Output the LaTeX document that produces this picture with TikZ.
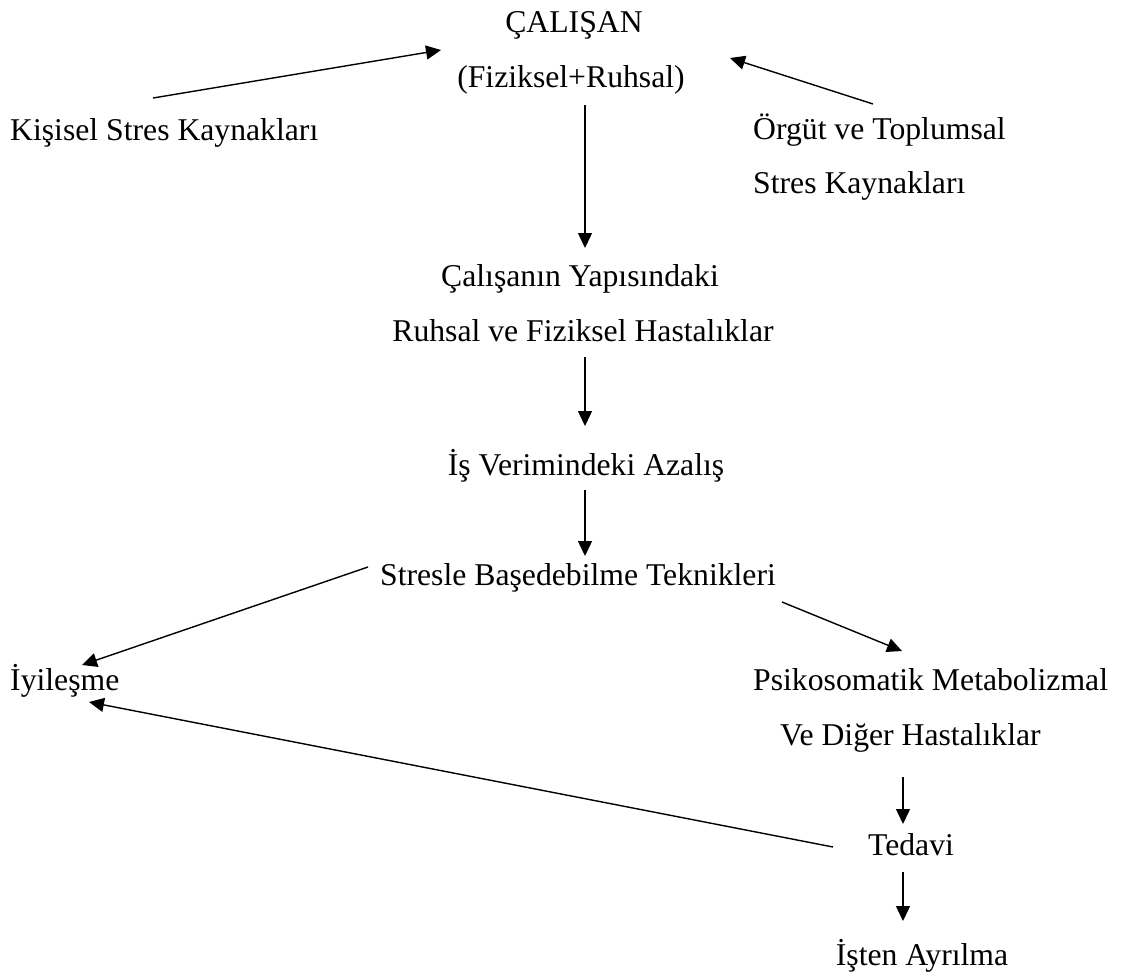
\documentclass[tikz,border=0pt]{standalone}
\usepackage{fontspec}
\setmainfont{Liberation Serif}
\usetikzlibrary{arrows.meta}
\begin{document}
\begin{tikzpicture}[x=1pt,y=-1pt,
  lbl/.style={anchor=base,inner sep=0pt,font=\fontsize{31.7}{38}\selectfont},
  lblw/.style={anchor=base west,inner sep=0pt,font=\fontsize{31.7}{38}\selectfont},
  conn/.style={line width=1.4pt,-{Triangle[length=15pt,width=14pt]}}]
\useasboundingbox (0,0) rectangle (1125,978);
% texts
\node[lbl] (calisan) at (574,32) {ÇALIŞAN};
\node[lbl] (fizruh) at (571,87) {(Fiziksel+Ruhsal)};
\node[lblw] (kisisel) at (10,140) {Kişisel Stres Kaynakları};
\node[lblw] (orgut1) at (753,139) {Örgüt ve Toplumsal};
\node[lblw] (orgut2) at (753,193) {Stres Kaynakları};
\node[lbl] (yapi1) at (580,286) {Çalışanın Yapısındaki};
\node[lbl] (yapi2) at (583,341) {Ruhsal ve Fiziksel Hastalıklar};
\node[lbl] (verim) at (586,475) {İş Verimindeki Azalış};
\node[lbl] (teknik) at (578,585) {Stresle Başedebilme Teknikleri};
\node[lblw] (iyiles) at (10,690) {İyileşme};
\node[lblw] (psiko1) at (753,690) {Psikosomatik Metabolizmal};
\node[lblw] (psiko2) at (780,745) {Ve Diğer Hastalıklar};
\node[lbl] (tedavi) at (911,855) {Tedavi};
\node[lbl] (ayril) at (922,965) {İşten Ayrılma};
% connector end points
\coordinate (kOut) at (153,98);
\coordinate (cInL) at (441,50);
\coordinate (oOut) at (873,104);
\coordinate (cInR) at (730,58);
\coordinate (fOut) at (585,105);
\coordinate (yIn) at (585,248);
\coordinate (yOut) at (585,357);
\coordinate (vIn) at (585,426);
\coordinate (vOut) at (585,490);
\coordinate (tIn) at (585,556);
\coordinate (tOutL) at (368,567);
\coordinate (iInT) at (82,665);
\coordinate (tOutR) at (782,602);
\coordinate (pIn) at (902,651);
\coordinate (pOut) at (903,777);
\coordinate (tedIn) at (903,824);
\coordinate (tedOutL) at (833,847);
\coordinate (iInB) at (89,702);
\coordinate (tedOut) at (903,872);
\coordinate (aIn) at (903,921);
% connectors
\draw[conn] (kOut) -- (cInL);
\draw[conn] (oOut) -- (cInR);
\draw[conn] (fOut) -- (yIn);
\draw[conn] (yOut) -- (vIn);
\draw[conn] (vOut) -- (tIn);
\draw[conn] (tOutL) -- (iInT);
\draw[conn] (tOutR) -- (pIn);
\draw[conn] (pOut) -- (tedIn);
\draw[conn] (tedOutL) -- (iInB);
\draw[conn] (tedOut) -- (aIn);
\end{tikzpicture}
\end{document}
